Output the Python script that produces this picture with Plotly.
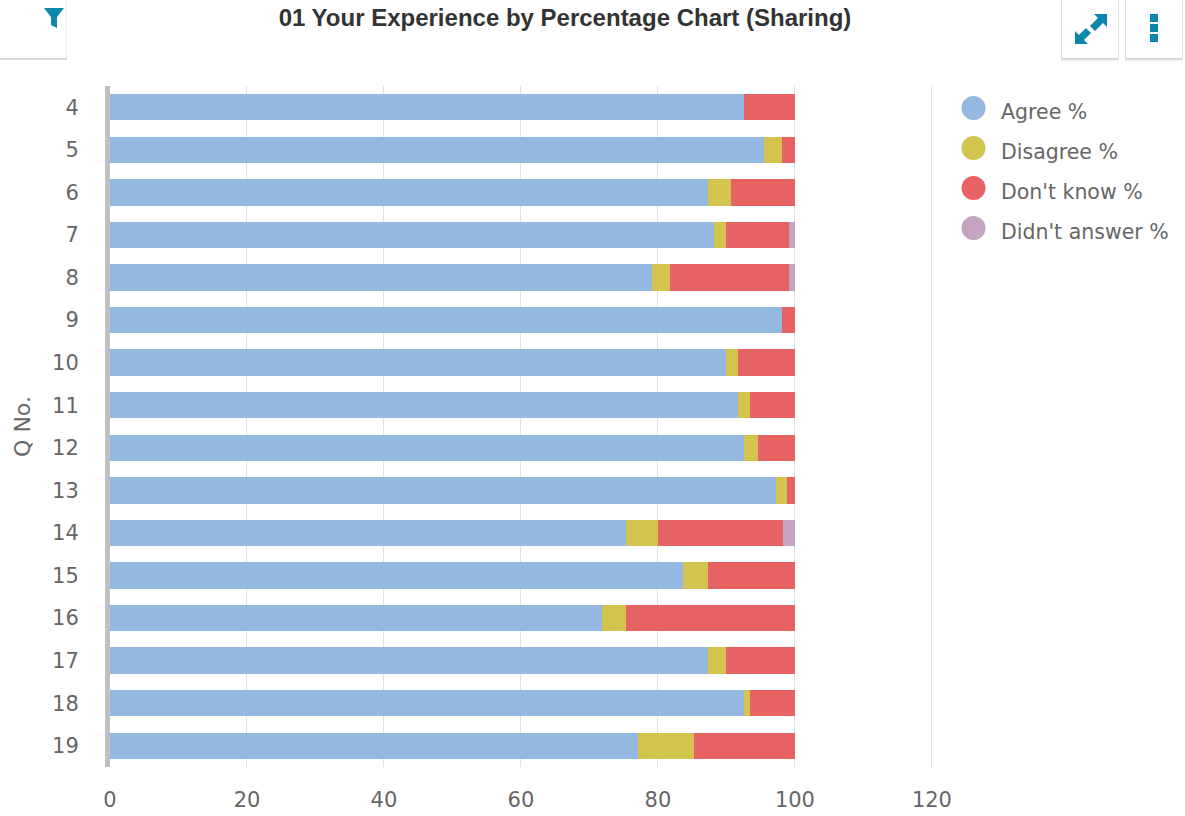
import plotly.graph_objects as go

questions = ['4', '5', '6', '7', '8', '9', '10', '11', '12', '13', '14', '15', '16', '17', '18', '19']
agree = [92.6, 95.5, 87.3, 88.2, 79.2, 98.1, 90.0, 91.7, 92.6, 97.2, 75.3, 83.6, 71.8, 87.3, 92.6, 77.1]
disagree = [0, 2.6, 3.4, 1.8, 2.6, 0, 1.7, 1.8, 2.0, 1.7, 4.7, 3.7, 3.5, 2.7, 0.9, 8.2]
dont_know = [7.4, 1.9, 9.3, 9.1, 17.3, 1.9, 8.3, 6.5, 5.4, 1.1, 18.2, 12.7, 24.7, 10.0, 6.5, 14.7]
didnt_answer = [0, 0, 0, 0.9, 0.9, 0, 0, 0, 0, 0, 1.8, 0, 0, 0, 0, 0]

series_names = ['Agree %', 'Disagree %', "Don't know %", "Didn't answer %"]
series_values = [agree, disagree, dont_know, didnt_answer]
series_colors = ['#94b8e0', '#d2c44f', '#e76363', '#c6a3c0']

x_ticks = [0, 20, 40, 60, 80, 100, 120]

ICON = '#0b87ad'
TEXT = '#666666'
FONT = 'DejaVu Sans'

# plot area in page pixels, used to place the legend and toolbar furniture
LEFT, RIGHT, TOP, BOTTOM = 110, 934, 86, 767


def px(x):
    return (x - LEFT) / (RIGHT - LEFT)


def py(y):
    return 1 - (y - TOP) / (BOTTOM - TOP)


def polygon(points, color):
    path = 'M ' + ' L '.join(f'{px(x):.5f},{py(y):.5f}' for x, y in points) + ' Z'
    return dict(type='path', xref='paper', yref='paper', path=path,
                fillcolor=color, line=dict(width=0), layer='above')


def box(x0, y0, x1, y1, color, opacity=1):
    return dict(type='rect', xref='paper', yref='paper',
                x0=px(x0), x1=px(x1), y0=py(y0), y1=py(y1),
                fillcolor=color, opacity=opacity,
                line=dict(width=0), layer='above')


fig = go.Figure()
for name, values, color in zip(series_names, series_values, series_colors):
    fig.add_trace(go.Bar(
        y=questions,
        x=values,
        name=name,
        orientation='h',
        marker=dict(color=color, line=dict(width=0)),
        showlegend=False,
    ))

shapes = []
annotations = []

# legend with large round keys
for i, (name, color) in enumerate(zip(series_names, series_colors)):
    cy = 108 + i * 40
    shapes.append(dict(type='circle', xref='paper', yref='paper',
                       x0=px(961.5), x1=px(985.5), y0=py(cy - 12), y1=py(cy + 12),
                       fillcolor=color, line=dict(width=0), layer='above'))
    annotations.append(dict(text=name, xref='paper', yref='paper',
                            x=px(999), y=py(cy + 4), xanchor='left', yanchor='middle',
                            showarrow=False, font=dict(family=FONT, size=20.5, color=TEXT)))

# toolbar cards, soft shadow first
for x0, x1 in [(1062, 1118), (1126, 1182)]:
    shapes.append(box(x0 - 1, 0, x1 + 1, 61, '#a0a0a0', 0.18))
    shapes.append(box(x0 - 0.5, 0, x1 + 0.5, 59.5, '#a0a0a0', 0.35))
    shapes.append(box(x0, 0, x1, 58, '#ffffff'))
shapes.append(box(0, 57, 67, 60, '#a0a0a0', 0.4))
shapes.append(box(65, 0, 67, 58, '#e4e4e4', 0.5))
shapes.append(box(0, 0, 66, 58, '#ffffff'))

# filter icon
shapes.append(polygon([(44, 8), (64, 8), (57, 17), (57, 28), (51, 25), (51, 17)], ICON))

# expand icon
shapes.append(polygon([(1094, 14), (1107, 14), (1107, 27), (1103, 23), (1095, 31),
                       (1090, 26), (1098, 18)], ICON))
shapes.append(polygon([(1075, 31), (1075, 44), (1088, 44), (1084, 40), (1091, 33),
                       (1086, 28), (1079, 35)], ICON))

# menu dots
for y0 in [14, 24, 34]:
    shapes.append(box(1150, y0, 1158, y0 + 8, ICON))

fig.update_layout(
    width=1185,
    height=816,
    margin=dict(l=LEFT, r=1185 - RIGHT, t=TOP, b=816 - BOTTOM, autoexpand=False),
    barmode='stack',
    bargap=0.38,
    paper_bgcolor='#ffffff',
    plot_bgcolor='#ffffff',
    font=dict(family=FONT, size=21, color=TEXT),
    title=dict(
        text='<b>01 Your Experience by Percentage Chart (Sharing)</b>',
        x=px(565), xref='paper', xanchor='center',
        y=1 - 18 / 816, yref='container', yanchor='middle',
        font=dict(family='Liberation Sans', size=24, color='#333333'),
    ),
    xaxis=dict(
        # a little past 120, plotly drops gridlines right at the axis end
        range=[0, 120.3],
        tickvals=x_ticks,
        showgrid=True,
        gridcolor='#e2e2e2',
        gridwidth=1,
        zeroline=False,
        showline=False,
        ticks='',
        ticklabelstandoff=18,
    ),
    yaxis=dict(
        type='category',
        categoryorder='array',
        categoryarray=questions,
        autorange='reversed',
        showgrid=False,
        zeroline=False,
        showline=True,
        linecolor='#c0c0c0',
        linewidth=5,
        ticks='',
        ticklabelstandoff=22,
        title=dict(text='Q No.', standoff=17, font=dict(family=FONT, size=22, color=TEXT)),
    ),
    shapes=shapes,
    annotations=annotations,
)

# the reference has no page margin round the chart
fig.write_html("out.html", config={'displayModeBar': False},
               post_script="document.body.style.margin = '0';")
